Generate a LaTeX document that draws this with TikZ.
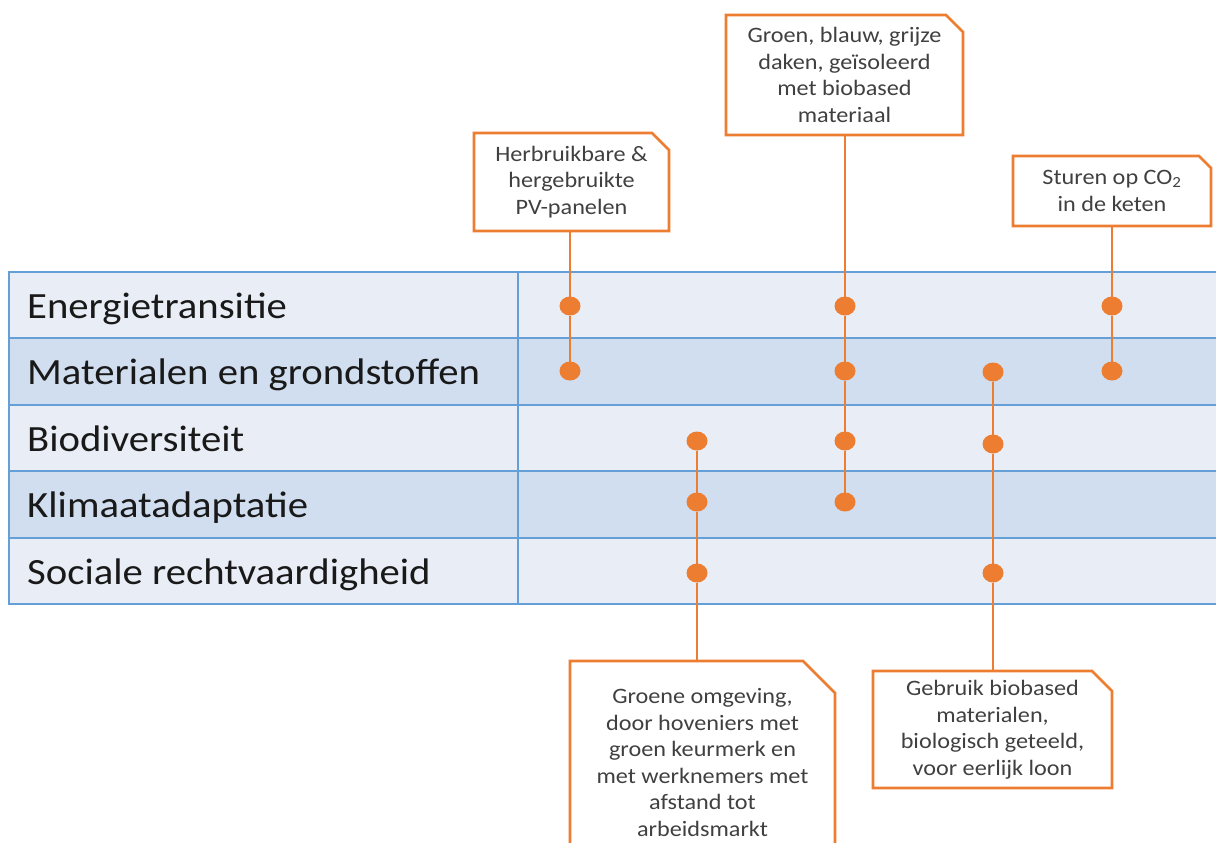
\documentclass[tikz,border=0pt]{standalone}
\usepackage{fontspec}
\setmainfont{Carlito}[FakeStretch=1.1]
\usetikzlibrary{shapes.geometric,calc}
\definecolor{rowlight}{RGB}{233,237,246}
\definecolor{rowdark}{RGB}{208,222,239}
\definecolor{tblue}{RGB}{100,160,215}
\definecolor{accent}{RGB}{237,125,49}
\definecolor{txtgray}{RGB}{64,64,64}
\tikzset{
 rowlabel/.style={anchor=base west, inner sep=0pt, font=\fontsize{37}{44}\selectfont, text=black!90},
 callout/.style={inner sep=0pt, outer sep=0pt, align=center, font=\fontsize{22}{26.5}\selectfont, text=txtgray},
 calloutline/.style={draw=accent, line width=2.8pt, line join=miter},
 dot/.style={ellipse, fill=accent, inner sep=0pt, outer sep=0pt, minimum width=21pt, minimum height=19pt},
 conn/.style={draw=accent, line width=1.4pt},
 gridline/.style={draw=tblue, line width=2.4pt}
}
\begin{document}
\begin{tikzpicture}[x=1pt,y=-1pt]
\useasboundingbox (0,0) rectangle (1216,843);
\clip (0,0) rectangle (1216,843);
% table rows
\fill[rowlight] (9,272) rectangle (1216,338);
\fill[rowdark] (9,338) rectangle (1216,405);
\fill[rowlight] (9,405) rectangle (1216,471);
\fill[rowdark] (9,471) rectangle (1216,538);
\fill[rowlight] (9,538) rectangle (1216,604);
\foreach \y in {272,338,405,471,538,604} \draw[gridline] (9,\y) -- (1216,\y);
\draw[gridline] (9,271) -- (9,605);
\draw[gridline] (518,271) -- (518,605);
% row labels
\node[rowlabel] (r1) at (27,318) {Energietransitie};
\node[rowlabel] (r2) at (27,384) {Materialen en grondstoffen};
\node[rowlabel] (r3) at (27,451) {Biodiversiteit};
\node[rowlabel] (r4) at (27,517) {Klimaatadaptatie};
\node[rowlabel] (r5) at (27,584) {Sociale rechtvaardigheid};
% callouts
\node[callout, minimum width=195pt, minimum height=98pt] (cA) at (571.5,182) {Herbruikbare \&\\hergebruikte\\PV-panelen};
\node[callout, minimum width=237pt, minimum height=120pt] (cB) at (844.5,75) {Groen, blauw, grijze\\daken, geïsoleerd\\met biobased\\materiaal};
\node[callout, minimum width=198pt, minimum height=70pt] (cC) at (1112,191) {Sturen op CO\textsubscript{2}\\in de keten};
\node[callout, minimum width=265pt, minimum height=203pt] (cD) at (702.5,762.5) {Groene omgeving,\\door hoveniers met\\groen keurmerk en\\met werknemers met\\afstand tot\\arbeidsmarkt};
\node[callout, minimum width=239pt, minimum height=117pt] (cE) at (992.5,729.5) {Gebruik biobased\\materialen,\\biologisch geteeld,\\voor eerlijk loon};
\foreach \n/\c in {cA/17,cB/17,cC/12,cD/32,cE/20}
  \draw[calloutline] (\n.south west) -- (\n.north west) -- ([xshift=-\c pt]\n.north east) -- ([yshift=-\c pt]\n.north east) -- (\n.south east) -- cycle;
% dots
\node[dot] (a1) at (570,306) {};
\node[dot] (a2) at (570,371) {};
\node[dot] (b1) at (845,306) {};
\node[dot] (b2) at (845,371) {};
\node[dot] (b3) at (845,441) {};
\node[dot] (b4) at (845,502) {};
\node[dot] (c1) at (1112,306) {};
\node[dot] (c2) at (1112,371) {};
\node[dot] (d1) at (697,441) {};
\node[dot] (d2) at (697,502) {};
\node[dot] (d3) at (697,573) {};
\node[dot] (e1) at (993,372) {};
\node[dot] (e2) at (993,444) {};
\node[dot] (e3) at (993,573) {};
% connectors
\draw[conn] (a1 |- cA.south) -- (a1) -- (a2);
\draw[conn] (b1 |- cB.south) -- (b1) -- (b2) -- (b3) -- (b4);
\draw[conn] (c1 |- cC.south) -- (c1) -- (c2);
\draw[conn] (d1) -- (d2) -- (d3) -- (d3 |- cD.north);
\draw[conn] (e1) -- (e2) -- (e3) -- (e3 |- cE.north);
\end{tikzpicture}
\end{document}
